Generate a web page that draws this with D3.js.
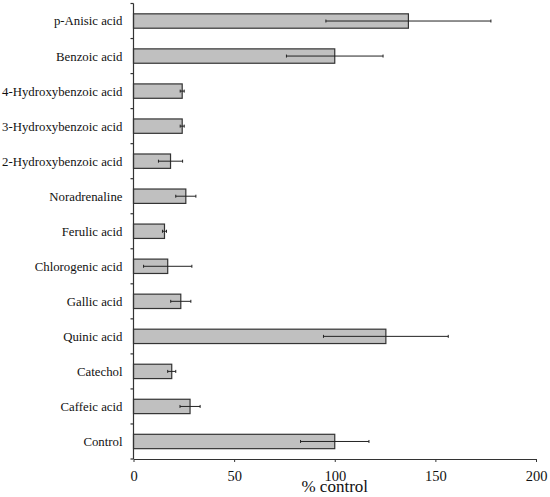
<!DOCTYPE html>
<html>
<head>
<meta charset="utf-8">
<script src="https://cdn.jsdelivr.net/npm/d3@7"></script>
<style>
  html, body { margin: 0; padding: 0; background: #fff; }
  svg { display: block; }
</style>
</head>
<body>
<svg id="chart" width="550" height="497" font-family="'Liberation Serif', Tinos, 'Times New Roman', 'DejaVu Serif', serif"></svg>
<script>
// Data (top to bottom)
const categories = ["p-Anisic acid", "Benzoic acid", "4-Hydroxybenzoic acid", "3-Hydroxybenzoic acid",
  "2-Hydroxybenzoic acid", "Noradrenaline", "Ferulic acid", "Chlorogenic acid", "Gallic acid",
  "Quinic acid", "Catechol", "Caffeic acid", "Control"];
const values = [136.6, 100, 24.2, 24.2, 18.4, 26, 15.4, 17, 23.5, 125.4, 19, 28.1, 100];
const errors = [41, 24, 1, 1, 6, 5, 1, 12, 5, 31, 2, 5, 17];
const xTicks = [0, 50, 100, 150, 200];
const xTitle = "% control";

const FONT = "'Liberation Serif', Tinos, 'Times New Roman', 'DejaVu Serif', serif";
const svg = d3.select("#chart");
const margin = { left: 133.5, right: 14, top: 3.5, bottom: 38 };
const W = 550, H = 497;

const x = d3.scaleLinear().domain([0, 200]).range([margin.left, W - margin.right]);
const y = d3.scaleBand().domain(categories).range([margin.top, H - margin.bottom]).paddingInner(0.59).paddingOuter(0.295);

const rows = categories.map((c, i) => ({ c, v: values[i], e: errors[i] }));

// bars
svg.append("g").selectAll("rect").data(rows).join("rect")
  .attr("x", x(0))
  .attr("y", d => y(d.c))
  .attr("width", d => x(d.v) - x(0))
  .attr("height", y.bandwidth())
  .attr("fill", "#c0c0c0")
  .attr("stroke", "#333")
  .attr("stroke-width", 1.2);

// error bars
const eg = svg.append("g").attr("stroke", "#222").attr("stroke-width", 1);
eg.selectAll("line.h").data(rows).join("line").attr("class", "h")
  .attr("x1", d => x(d.v - d.e)).attr("x2", d => x(d.v + d.e))
  .attr("y1", d => y(d.c) + y.bandwidth() / 2).attr("y2", d => y(d.c) + y.bandwidth() / 2);
eg.selectAll("line.cl").data(rows).join("line").attr("class", "cl")
  .attr("x1", d => x(d.v - d.e)).attr("x2", d => x(d.v - d.e))
  .attr("y1", d => y(d.c) + y.bandwidth() / 2 - 1.5).attr("y2", d => y(d.c) + y.bandwidth() / 2 + 1.5);
eg.selectAll("line.cr").data(rows).join("line").attr("class", "cr")
  .attr("x1", d => x(d.v + d.e)).attr("x2", d => x(d.v + d.e))
  .attr("y1", d => y(d.c) + y.bandwidth() / 2 - 1.5).attr("y2", d => y(d.c) + y.bandwidth() / 2 + 1.5);

// y axis line + ticks at band boundaries
const yAxisG = svg.append("g").attr("stroke", "#333").attr("stroke-width", 1.2);
yAxisG.append("line").attr("x1", x(0)).attr("x2", x(0)).attr("y1", margin.top).attr("y2", H - margin.bottom);
const boundaries = d3.range(categories.length + 1).map(i => margin.top + i * (H - margin.bottom - margin.top) / categories.length);
yAxisG.selectAll("line.t").data(boundaries).join("line").attr("class", "t")
  .attr("x1", x(0) - 3).attr("x2", x(0)).attr("y1", d => d).attr("y2", d => d);

// category labels
svg.append("g").selectAll("text").data(categories).join("text")
  .attr("x", x(0) - 11)
  .attr("y", d => y(d) + y.bandwidth() / 2)
  .attr("dy", "0.35em")
  .attr("text-anchor", "end")
  .attr("font-size", 12.8)
  .attr("font-family", FONT)
  .attr("fill", "#111")
  .text(d => d);

// x axis
const xAxis = d3.axisBottom(x).tickValues(xTicks).tickSize(3).tickPadding(9).tickSizeOuter(0);
const xg = svg.append("g").attr("transform", `translate(0,${H - margin.bottom})`).call(xAxis)
  .attr("font-family", FONT).attr("font-size", 14.5);
xg.select(".domain").attr("stroke", "#333").attr("stroke-width", 1.2);
xg.selectAll(".tick line").attr("stroke", "#333");
xg.selectAll(".tick text").attr("fill", "#111");

// x title
svg.append("text")
  .attr("x", x(100))
  .attr("y", 491.5)
  .attr("text-anchor", "middle")
  .attr("font-size", 17)
  .attr("font-family", FONT)
  .attr("fill", "#111")
  .text(xTitle);
</script>
</body>
</html>
